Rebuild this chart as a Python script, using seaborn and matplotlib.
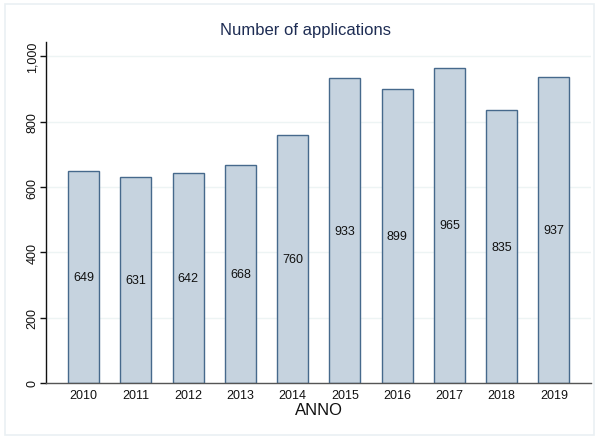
import matplotlib
matplotlib.use("Agg")
import matplotlib.pyplot as plt
import seaborn as sns
import pandas as pd
from matplotlib.patches import Rectangle
from matplotlib.ticker import FuncFormatter

years = ["2010", "2011", "2012", "2013", "2014", "2015", "2016", "2017", "2018", "2019"]
applications = [649, 631, 642, 668, 760, 933, 899, 965, 835, 937]
y_ticks = [0, 200, 400, 600, 800, 1000]

df = pd.DataFrame({"ANNO": years, "n": applications})

sns.set_theme(style="white")
plt.rcParams["font.family"] = ["Liberation Sans", "DejaVu Sans"]

fig = plt.figure(figsize=(5.99, 4.39), dpi=100)
fig.patch.set_facecolor("white")
fig.patches.append(Rectangle((5 / 599, 3 / 439), 589 / 599, 431 / 439,
                             transform=fig.transFigure, fill=False,
                             edgecolor="#eaf0f3", linewidth=1.2))

ax = fig.add_axes([46 / 599, 1 - 384 / 439, 545 / 599, 341 / 439])
sns.barplot(data=df, x="ANNO", y="n", ax=ax, color="#c6d3df",
            edgecolor="#46698c", linewidth=1.0, width=0.59, saturation=1)

for i, v in enumerate(applications):
    ax.text(i, v / 2, str(v), ha="center", va="center", fontsize=9, color="#111111")

ax.set_xlim(-0.72, 9.71)
ax.set_ylim(0, 1044)
ax.set_yticks(y_ticks)
ax.yaxis.set_major_formatter(FuncFormatter(lambda v, p: f"{int(v):,}"))
ax.grid(axis="y", color="#edf4f4", linewidth=1.0)
ax.set_axisbelow(True)

for s in ["top", "right"]:
    ax.spines[s].set_visible(False)
ax.spines["left"].set_color("#111111")
ax.spines["left"].set_linewidth(1.0)
ax.spines["bottom"].set_color("#555555")
ax.spines["bottom"].set_linewidth(1.0)

ax.tick_params(axis="y", which="major", left=True, length=4, width=1,
               color="#111111", labelsize=9, labelcolor="#111111", pad=1.5)
for lab in ax.get_yticklabels():
    lab.set_rotation(90)
    lab.set_va("center")
ax.tick_params(axis="x", bottom=False, length=0, labelsize=9,
               labelcolor="#111111", pad=4)

ax.set_ylabel("")
ax.set_xlabel("ANNO", fontsize=12, color="#111111", labelpad=1)

fig.text(305 / 599, 1 - 30 / 439, "Number of applications", ha="center", va="center",
         fontsize=12, color="#1e2d54")

fig.savefig("out.png", dpi=100, facecolor="white")
